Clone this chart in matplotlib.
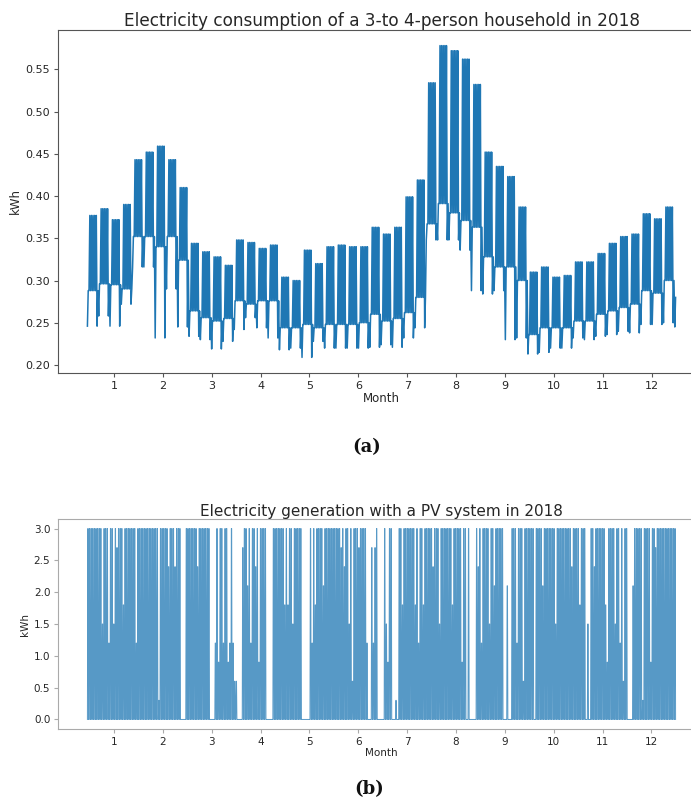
import matplotlib
matplotlib.use('Agg')
import matplotlib.pyplot as plt

plt.rcParams['path.simplify'] = False

# ---------------- data ----------------
# Household consumption, read per week (2018 starts on a Monday):
# peak level of the working-day block, base level, and weekend dip (kWh)
wk_peak = [0.377, 0.385, 0.372, 0.390, 0.443, 0.452, 0.459, 0.443, 0.410, 0.344,
           0.334, 0.328, 0.318, 0.348, 0.345, 0.338, 0.342, 0.304, 0.300, 0.336,
           0.320, 0.340, 0.342, 0.340, 0.340, 0.363, 0.355, 0.363, 0.399, 0.419,
           0.534, 0.578, 0.572, 0.562, 0.532, 0.452, 0.435, 0.423, 0.387, 0.310,
           0.316, 0.304, 0.306, 0.322, 0.322, 0.332, 0.344, 0.352, 0.355, 0.379,
           0.373, 0.387, 0.310]
wk_base = [0.288, 0.296, 0.295, 0.290, 0.352, 0.352, 0.340, 0.352, 0.324, 0.264,
           0.256, 0.252, 0.255, 0.276, 0.272, 0.276, 0.276, 0.244, 0.244, 0.248,
           0.244, 0.248, 0.248, 0.248, 0.250, 0.260, 0.252, 0.255, 0.262, 0.280,
           0.367, 0.391, 0.380, 0.371, 0.363, 0.328, 0.316, 0.316, 0.300, 0.236,
           0.244, 0.244, 0.244, 0.252, 0.252, 0.260, 0.264, 0.268, 0.272, 0.288,
           0.285, 0.300, 0.280]
wk_dip = [0.246, 0.258, 0.246, 0.272, 0.316, 0.316, 0.232, 0.290, 0.245, 0.234,
          0.230, 0.219, 0.228, 0.242, 0.256, 0.244, 0.232, 0.218, 0.220, 0.209,
          0.228, 0.220, 0.220, 0.220, 0.220, 0.221, 0.224, 0.221, 0.232, 0.244,
          0.348, 0.348, 0.348, 0.336, 0.288, 0.284, 0.288, 0.230, 0.232, 0.213,
          0.215, 0.220, 0.220, 0.232, 0.230, 0.234, 0.236, 0.240, 0.238, 0.248,
          0.248, 0.250, 0.245]
work_day = [False, True, True, True, True, True, False]

# PV generation: daily peak output (kWh), per month
pv_jan = [3.0, 3.0, 3.0, 3.0, 3.0, 3.0, 3.0, 3.0, 3.0, 1.5, 3.0, 3.0, 3.0, 1.2, 3.0, 3.0,
          1.5, 3.0, 2.7, 3.0, 3.0, 3.0, 1.8, 3.0, 3.0, 3.0, 3.0, 3.0, 3.0, 3.0, 1.2]
pv_feb = [3.0, 3.0, 3.0, 3.0, 3.0, 3.0, 3.0, 3.0, 3.0, 3.0, 3.0, 3.0, 3.0, 0.3, 3.0, 3.0,
          3.0, 3.0, 3.0, 2.4, 3.0, 3.0, 3.0, 2.4, 3.0, 3.0, 3.0, 0.0]
pv_mar = [0.0, 0.0, 3.0, 3.0, 3.0, 3.0, 3.0, 3.0, 3.0, 2.4, 3.0, 3.0, 3.0, 3.0, 3.0, 3.0,
          3.0, 0.0, 0.0, 0.0, 1.2, 3.0, 0.9, 3.0, 3.0, 1.2, 3.0, 3.0, 0.9, 1.2, 3.0]
pv_apr = [1.2, 0.6, 0.6, 0.0, 0.0, 0.0, 2.7, 3.0, 3.0, 2.1, 3.0, 1.2, 3.0, 3.0, 2.4, 3.0,
          0.9, 3.0, 3.0, 3.0, 3.0, 0.0, 0.0, 0.0, 0.0, 3.0, 3.0, 3.0, 3.0, 3.0]
pv_may = [3.0, 3.0, 1.8, 3.0, 1.8, 3.0, 3.0, 1.5, 3.0, 3.0, 3.0, 3.0, 3.0, 0.0, 0.0, 0.0,
          0.0, 0.0, 3.0, 1.2, 3.0, 1.8, 3.0, 3.0, 3.0, 3.0, 2.1, 3.0, 3.0, 3.0, 3.0]
pv_jun = [3.0, 3.0, 3.0, 3.0, 3.0, 3.0, 2.7, 3.0, 2.4, 3.0, 3.0, 1.5, 3.0, 0.6, 3.0, 3.0,
          3.0, 2.7, 3.0, 3.0, 3.0, 3.0, 1.2, 0.0, 0.0, 2.7, 1.2, 2.7, 3.0, 0.0]
pv_jul = [0.0, 0.0, 0.0, 3.0, 1.5, 0.9, 3.0, 3.0, 0.0, 0.0, 0.3, 0.0, 3.0, 3.0, 1.8, 3.0,
          3.0, 3.0, 3.0, 3.0, 3.0, 3.0, 1.8, 3.0, 1.2, 3.0, 3.0, 1.8, 3.0, 3.0, 3.0]
pv_aug = [3.0, 3.0, 2.4, 3.0, 3.0, 3.0, 1.5, 3.0, 3.0, 3.0, 3.0, 3.0, 3.0, 3.0, 1.8, 3.0,
          3.0, 3.0, 3.0, 3.0, 0.9, 3.0, 3.0, 0.0, 3.0, 0.0, 0.0, 0.0, 0.0, 3.0, 2.4]
pv_sep = [3.0, 1.2, 3.0, 3.0, 3.0, 3.0, 1.5, 3.0, 3.0, 2.1, 3.0, 3.0, 3.0, 3.0, 3.0, 0.0,
          0.0, 2.1, 0.0, 0.0, 3.0, 3.0, 3.0, 1.2, 3.0, 3.0, 3.0, 0.6, 3.0, 3.0]
pv_oct = [3.0, 3.0, 3.0, 3.0, 0.0, 3.0, 3.0, 3.0, 3.0, 2.1, 3.0, 3.0, 3.0, 3.0, 3.0, 3.0,
          3.0, 1.5, 3.0, 3.0, 3.0, 3.0, 3.0, 3.0, 3.0, 3.0, 3.0, 2.4, 3.0, 3.0, 3.0]
pv_nov = [3.0, 1.8, 3.0, 3.0, 3.0, 0.0, 1.5, 0.0, 3.0, 3.0, 2.4, 3.0, 3.0, 3.0, 3.0, 3.0,
          3.0, 1.8, 0.9, 3.0, 3.0, 3.0, 3.0, 1.5, 3.0, 3.0, 1.2, 3.0, 0.6, 3.0]
pv_dec = [3.0, 0.0, 0.0, 0.0, 2.1, 3.0, 3.0, 3.0, 3.0, 3.0, 0.3, 3.0, 3.0, 3.0, 3.0, 0.9,
          3.0, 3.0, 2.7, 3.0, 3.0, 3.0, 3.0, 3.0, 3.0, 3.0, 3.0, 3.0, 3.0, 3.0, 3.0]

month_ticks = list(range(1, 13))
cons_yticks = [0.20, 0.25, 0.30, 0.35, 0.40, 0.45, 0.50, 0.55]
pv_yticks = [0.0, 0.5, 1.0, 1.5, 2.0, 2.5, 3.0]
x_first, x_last = 0.45, 12.5   # month-axis position of first / last day
n_days = 365

title_a = 'Electricity consumption of a 3-to 4-person household in 2018'
title_b = 'Electricity generation with a PV system in 2018'

# ---------------- figure ----------------
W, H = 691, 801
fig = plt.figure(figsize=(W / 100, H / 100), dpi=100)
ax1 = fig.add_axes([58 / W, 1 - 373 / H, 647 / W, 343 / H])
ax2 = fig.add_axes([58 / W, 1 - 729 / H, 647 / W, 210 / H])

def day_to_month(d):
    return x_first + d * (x_last - x_first) / n_days

blue = '#1f77b4'

cx, cy = [], []
for d in range(n_days):
    w, k = divmod(d, 7)
    if work_day[k]:
        lo, hi = wk_base[w], wk_peak[w]
    else:
        lo, hi = wk_dip[w], wk_base[w]
    cx += [day_to_month(d + 0.25), day_to_month(d + 0.75)]
    cy += [lo, hi]
ax1.plot(cx, cy, color=blue, lw=1.1)

pv = pv_jan + pv_feb + pv_mar + pv_apr + pv_may + pv_jun + pv_jul + pv_aug + \
    pv_sep + pv_oct + pv_nov + pv_dec
gx, gy = [], []
for d, v in enumerate(pv):
    gx += [day_to_month(d + 0.15), day_to_month(d + 0.4),
           day_to_month(d + 0.6), day_to_month(d + 0.85)]
    gy += [0.0, v, v, 0.0]
ax2.plot(gx, gy, color=blue, lw=0.7, alpha=0.75)

txt = '#262626'
for ax, sc, fs, yt, fmt in [(ax1, '#555555', 8, cons_yticks, '{:.2f}'),
                            (ax2, '#aaaaaa', 7.5, pv_yticks, '{:.1f}')]:
    for s in ax.spines.values():
        s.set_color(sc)
    ax.set_xticks(month_ticks)
    ax.set_xticklabels([str(m) for m in month_ticks])
    ax.set_yticks(yt)
    ax.set_yticklabels([fmt.format(v) for v in yt])
    ax.tick_params(labelsize=fs, colors=txt, length=3, width=0.8, pad=2.5)
    ax.tick_params(axis='both', color=sc)

ax1.set_title(title_a, fontsize=12.2, color=txt, pad=3)
ax1.set_xlabel('Month', fontsize=8.5, color=txt, labelpad=1)
ax1.set_ylabel('kWh', fontsize=8.5, color=txt, labelpad=3)

ax2.set_title(title_b, fontsize=11.0, color=txt, pad=2)
ax2.set_xlabel('Month', fontsize=7.5, color=txt, labelpad=1)
ax2.set_ylabel('kWh', fontsize=7.5, color=txt, labelpad=3)

fig.text(367 / W, 1 - 447 / H, '(a)', ha='center', va='center', fontsize=13,
         fontweight='bold', family='DejaVu Serif', color='#111111')
fig.text(369 / W, 1 - 789 / H, '(b)', ha='center', va='center', fontsize=13,
         fontweight='bold', family='DejaVu Serif', color='#111111')

fig.savefig('out.png', dpi=100)
